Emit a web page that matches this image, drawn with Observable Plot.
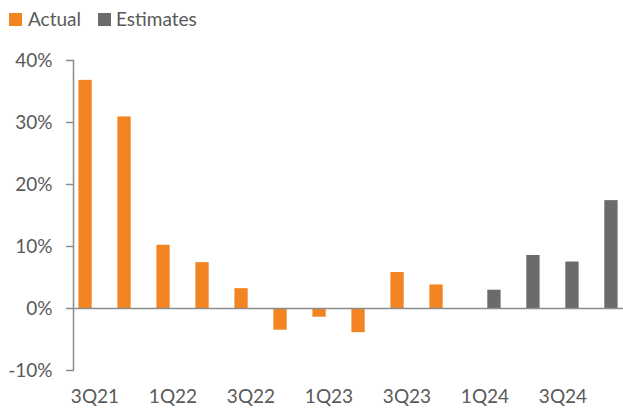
<!DOCTYPE html>
<html>
<head>
<meta charset="utf-8">
<script src="https://cdn.jsdelivr.net/npm/d3@7"></script>
<script src="https://cdn.jsdelivr.net/npm/@observablehq/plot@0.6"></script>
<style>
  body { margin: 0; background: #fff; font-family: Lato, "Open Sans", sans-serif; color: #595959; }
  #legend { position: relative; height: 40px; width: 623px; font-size: 19px; }
  .sw { position: absolute; top: 13px; width: 13px; height: 13px; }
  .lt { position: absolute; top: 7px; line-height: 24px; }
  svg text { fill: #595959; }
</style>
</head>
<body>
<div id="legend"></div>
<div id="chart"></div>
<script>
const quarters = ["3Q21","4Q21","1Q22","2Q22","3Q22","4Q22","1Q23","2Q23","3Q23","4Q23","1Q24","2Q24","3Q24","4Q24"];
const actual =    [36.8, 30.9, 10.2, 7.4, 3.2, -3.5, -1.4, -3.9, 5.8, 3.8, null, null, null, null];
const estimates = [null, null, null, null, null, null, null, null, null, null, 2.95, 8.55, 7.5, 17.4];
const labeledQuarters = ["3Q21","1Q22","3Q22","1Q23","3Q23","1Q24","3Q24"];
const yTicks = [-10, 0, 10, 20, 30, 40];
const seriesNames = ["Actual", "Estimates"];
const seriesColors = ["#F28522", "#6B6B6B"];

const actualData = quarters.map((q, i) => ({q, v: actual[i]})).filter(d => d.v != null);
const estData = quarters.map((q, i) => ({q, v: estimates[i]})).filter(d => d.v != null);

// legend
const legend = document.getElementById("legend");
const legendX = [[9, 28], [98, 116]];
seriesNames.forEach((name, i) => {
  const sw = document.createElement("div");
  sw.className = "sw"; sw.style.left = legendX[i][0] + "px"; sw.style.background = seriesColors[i];
  const t = document.createElement("div");
  t.className = "lt"; t.style.left = legendX[i][1] + "px"; t.textContent = name;
  legend.append(sw, t);
});

const chart = Plot.plot({
  width: 623,
  height: 368,
  marginLeft: 73,
  marginRight: 0,
  marginTop: 20,
  marginBottom: 38,
  style: { fontFamily: "Lato, 'Open Sans', sans-serif", fontSize: "19px", color: "#595959", background: "#fff" },
  x: { domain: quarters, padding: 0, label: null },
  y: { domain: [-10, 40], label: null },
  marks: [
    Plot.barY(actualData, { x: "q", y: "v", fill: seriesColors[0], insetLeft: 3.4, insetRight: 22.3 }),
    Plot.barY(estData, { x: "q", y: "v", fill: seriesColors[1], insetLeft: 22.3, insetRight: 3.4 }),
    Plot.ruleY([0], { stroke: "#8c8c8c", strokeWidth: 1.5 }),
    Plot.frame({ anchor: "left", stroke: "#8c8c8c", strokeWidth: 1.5 }),
    Plot.axisY({ ticks: yTicks, tickFormat: d => d + "%", tickSize: 7, tickPadding: 14, stroke: "#8c8c8c", strokeWidth: 1.5, label: null }),
    Plot.axisX({ ticks: labeledQuarters, tickSize: 0, tickPadding: 19, label: null })
  ]
});
document.getElementById("chart").append(chart);
</script>
</body>
</html>
